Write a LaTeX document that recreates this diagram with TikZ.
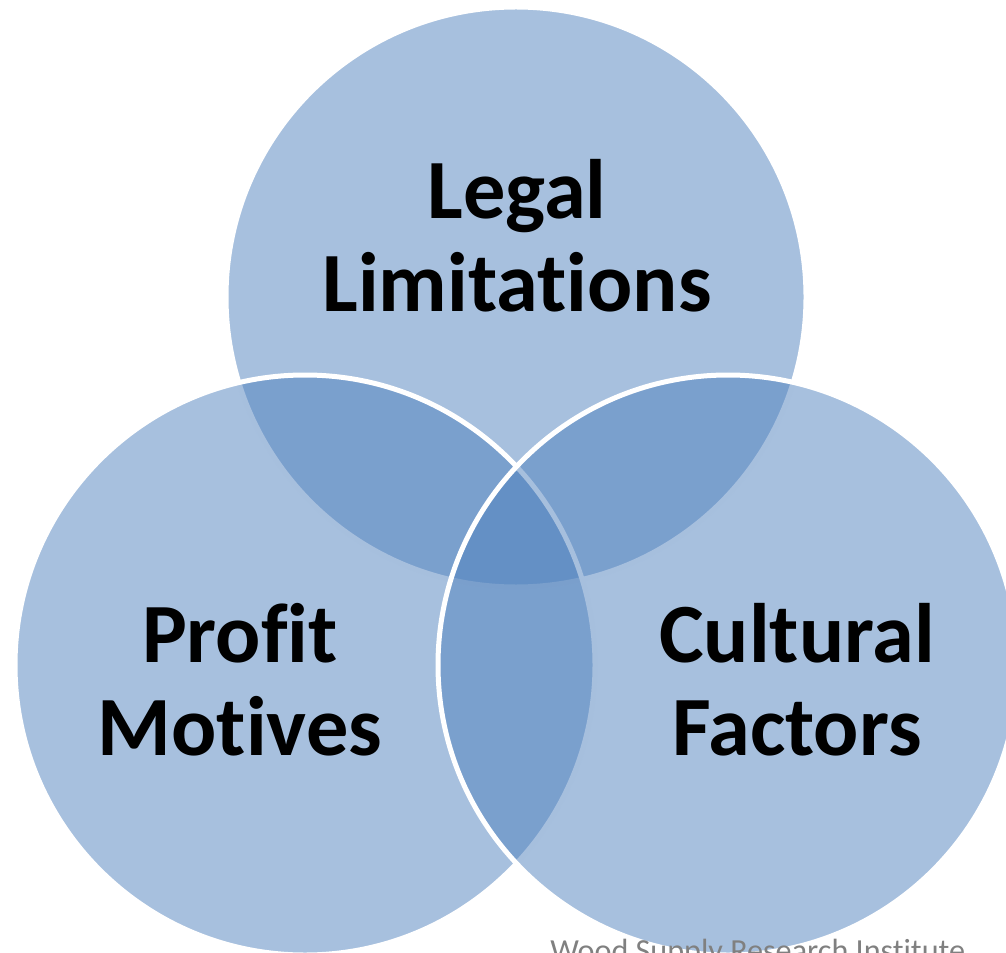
\documentclass[tikz,border=0pt]{standalone}
\usepackage{fontspec}
\setmainfont[Ligatures=NoCommon]{Carlito}
\definecolor{vennblue}{RGB}{79,129,189}
\definecolor{notegray}{RGB}{128,128,128}
\tikzset{
    venn/.style={fill=vennblue,fill opacity=0.5,draw=white,line width=0.1cm},
    lbl/.style={align=center,font=\bfseries\fontsize{48}{53}\selectfont,text=black,inner sep=0pt}
}
\begin{document}
\begin{tikzpicture}[x=0.02cm,y=-0.02cm]
    \useasboundingbox (0,0) rectangle (1006,952);
    \clip (0,0) rectangle (1006,952);

    \coordinate (L) at (516,297);
    \coordinate (P) at (305,665);
    \coordinate (C) at (728,665);

    % Kreise
    \filldraw[venn] (L) circle (290);
    \filldraw[venn] (P) circle (290);
    \filldraw[venn] (C) circle (290);

    \node[lbl] (legal) at (517,236) {Legal\\Limitations};
    \node[lbl] (profit) at (240,680) {Profit\\Motives};
    \node[lbl] (cultural) at (797,680) {Cultural\\Factors};

    \node[anchor=base west,inner sep=0pt,text=notegray,font=\fontsize{18.3}{20}\selectfont]
        (source) at (550,961) {Wood Supply Research Institute};
\end{tikzpicture}
\end{document}
